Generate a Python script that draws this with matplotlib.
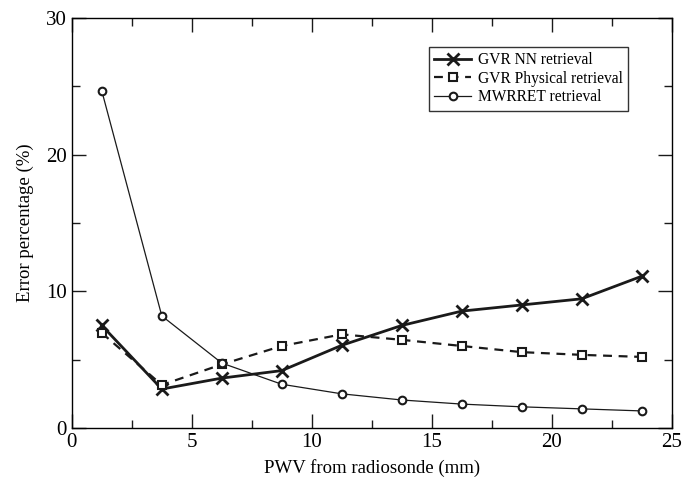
import numpy as np
import matplotlib.pyplot as plt
from matplotlib.ticker import MultipleLocator

plt.rcParams['font.family'] = ['Liberation Serif', 'DejaVu Serif']

pwv = [1.25, 3.75, 6.25, 8.75, 11.25, 13.75, 16.25, 18.75, 21.25, 23.75]
gvr_nn = [7.5, 2.85, 3.65, 4.2, 6.05, 7.5, 8.55, 9.0, 9.45, 11.1]
gvr_phys = [6.95, 3.15, 4.65, 6.0, 6.85, 6.45, 6.0, 5.55, 5.35, 5.2]
mwrret = [24.65, 8.2, 4.75, 3.2, 2.5, 2.05, 1.75, 1.55, 1.4, 1.25]

fig = plt.figure(figsize=(6.84, 4.82), dpi=100)
ax = fig.add_axes([0.105, 0.112, 0.877, 0.851])

ax.plot(pwv, gvr_nn, color='#1a1a1a', lw=2.0, marker='x', ms=8, mew=2.0,
        label='GVR NN retrieval')
ax.plot(pwv, gvr_phys, color='#1a1a1a', lw=1.6, ls=(0, (4, 3)), marker='s', ms=5.5,
        mfc='white', mew=1.5, label='GVR Physical retrieval')
ax.plot(pwv, mwrret, color='#1a1a1a', lw=0.9, marker='o', ms=5.5,
        mfc='white', mew=1.5, label='MWRRET retrieval')

ax.set_xlim(0, 25)
ax.set_ylim(0, 30)
ax.xaxis.set_major_locator(MultipleLocator(5))
ax.xaxis.set_minor_locator(MultipleLocator(2.5))
ax.yaxis.set_major_locator(MultipleLocator(10))
ax.yaxis.set_minor_locator(MultipleLocator(5))
ax.tick_params(which='both', direction='in', top=True, right=True, labelsize=15,
               width=1.0, color='#1a1a1a')
ax.tick_params(which='major', length=10)
ax.tick_params(which='minor', length=6)
for s in ax.spines.values():
    s.set_linewidth(1.0)

ax.set_xlabel('PWV from radiosonde (mm)', fontsize=13.5, labelpad=5)
ax.set_ylabel('Error percentage (%)', fontsize=13.5, labelpad=9)

leg = ax.legend(loc='upper right', bbox_to_anchor=(0.927, 0.929), borderaxespad=0,
                fontsize=11.2, frameon=True, fancybox=False, edgecolor='black',
                handlelength=2.4, handletextpad=0.4, borderpad=0.35, labelspacing=0.15)
leg.get_frame().set_linewidth(1.0)

fig.savefig('out.png', dpi=100)
